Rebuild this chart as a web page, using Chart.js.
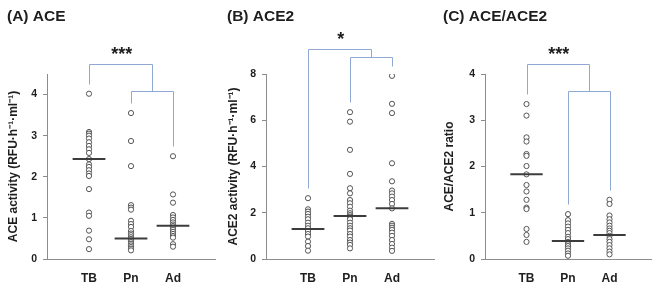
<!DOCTYPE html>
<html lang="en">
<head>
<meta charset="UTF-8">
<title>ACE, ACE2 and ACE/ACE2</title>
<script src="https://cdn.jsdelivr.net/npm/chart.js@4.4.0/dist/chart.umd.min.js"></script>
<style>
  body { margin: 0; background: #fff; }
  #wrap { position: relative; width: 656px; height: 288px; }
  .panel { position: absolute; top: 0; width: 220px; height: 288px; }
</style>
</head>
<body>
<div id="wrap">
  <div class="panel" style="left:0"><canvas id="chartA" width="220" height="288"></canvas></div>
  <div class="panel" style="left:220px"><canvas id="chartB" width="220" height="288"></canvas></div>
  <div class="panel" style="left:436px"><canvas id="chartC" width="220" height="288"></canvas></div>
</div>
<script>
const groups = ['TB', 'Pn', 'Ad'];

// (A) ACE activity
const aceTB = [4.02, 3.09, 3.05, 3.00, 2.93, 2.84, 2.75, 2.67, 2.58, 2.43, 2.30, 2.24, 2.16, 2.08, 2.02, 1.70, 1.13, 1.05, 0.69, 0.48, 0.24];
const acePn = [3.55, 2.87, 2.26, 1.31, 1.25, 1.20, 0.93, 0.85, 0.78, 0.68, 0.62, 0.58, 0.53, 0.49, 0.45, 0.41, 0.37, 0.33, 0.29, 0.25, 0.21];
const aceAd = [2.50, 1.57, 1.37, 1.07, 1.01, 0.95, 0.89, 0.84, 0.80, 0.76, 0.71, 0.66, 0.61, 0.56, 0.52, 0.36, 0.30];
const aceMedians = [2.43, 0.50, 0.81];
const aceTicks = [0, 1, 2, 3, 4];

// (B) ACE2 activity
const ace2TB = [2.63, 2.15, 2.05, 1.95, 1.83, 1.72, 1.57, 1.44, 1.33, 1.21, 1.08, 0.97, 0.75, 0.56, 0.36];
const ace2Pn = [6.35, 5.94, 4.72, 3.68, 3.06, 2.84, 2.55, 2.41, 2.26, 2.09, 1.98, 1.90, 1.83, 1.72, 1.57, 1.44, 1.33, 1.23, 1.08, 0.97, 0.82, 0.71, 0.61, 0.46];
const ace2Ad = [7.92, 6.71, 6.31, 4.14, 3.36, 2.96, 2.84, 2.70, 2.55, 2.38, 2.19, 1.52, 1.44, 1.35, 1.26, 1.14, 1.00, 0.82, 0.65, 0.49, 0.35];
const ace2Medians = [1.30, 1.86, 2.19];
const ace2Ticks = [0, 2, 4, 6, 8];

// (C) ACE/ACE2 ratio
const ratioTB = [3.35, 3.10, 2.63, 2.54, 2.27, 2.23, 2.01, 1.83, 1.60, 1.46, 1.28, 1.11, 1.08, 0.65, 0.52, 0.37];
const ratioPn = [0.97, 0.84, 0.77, 0.70, 0.63, 0.56, 0.48, 0.43, 0.37, 0.32, 0.28, 0.23, 0.18, 0.12, 0.07];
const ratioAd = [1.28, 1.19, 0.94, 0.86, 0.79, 0.72, 0.66, 0.61, 0.56, 0.50, 0.43, 0.37, 0.30, 0.23, 0.16, 0.10];
const ratioMedians = [1.83, 0.39, 0.52];
const ratioTicks = [0, 1, 2, 3, 4];

const FONT = '"Liberation Sans", Arial, sans-serif';
const AXIS = '#8c8c8c';
const INK = '#1e1e1e';
const BRACKET = 'rgb(143,168,212)';

Chart.defaults.font.family = FONT;

// panel titles, significance brackets and stars
const decor = {
  id: 'decor',
  afterDraw(chart, args, o) {
    const {ctx, scales: {x, y}} = chart;
    const px = v => Math.round(x.getPixelForValue(v)) + 0.5;
    const py = v => Math.round(y.getPixelForValue(v)) + 0.5;
    const dropEnd = vals => Math.round(y.getPixelForValue(Math.max(...vals)) - 10) + 0.5;
    ctx.save();
    ctx.fillStyle = INK;
    ctx.font = 'bold 15.5px ' + FONT;
    ctx.textAlign = 'left';
    ctx.textBaseline = 'middle';
    ctx.fillText(o.title, 7, 17);

    ctx.strokeStyle = BRACKET;
    ctx.lineWidth = 1;
    ctx.beginPath();
    ctx.moveTo(px(1), dropEnd(o.series[0]));
    ctx.lineTo(px(1), py(o.outer));
    ctx.lineTo(px(2.5), py(o.outer));
    ctx.lineTo(px(2.5), py(o.inner));
    ctx.moveTo(px(2), dropEnd(o.series[1]));
    ctx.lineTo(px(2), py(o.inner));
    ctx.lineTo(px(3), py(o.inner));
    ctx.lineTo(px(3), dropEnd(o.series[2]));
    ctx.stroke();

    ctx.font = 'bold 18px ' + FONT;
    ctx.textAlign = 'center';
    ctx.fillText(o.stars, x.getPixelForValue(1.78), y.getPixelForValue(o.starY) + 4);
    ctx.restore();
  }
};

function makeChart(id, p) {
  const datasets = [];
  p.series.forEach((vals, i) => {
    datasets.push({
      data: vals.map(v => ({x: i + 1, y: v})),
      pointRadius: 2.6,
      pointBorderWidth: 1,
      pointBorderColor: '#555',
      pointBackgroundColor: '#fff',
      order: 1
    });
    datasets.push({
      data: [{x: i + 1 - 0.39, y: p.medians[i]}, {x: i + 1 + 0.39, y: p.medians[i]}],
      showLine: true,
      borderColor: '#3c3c3c',
      borderWidth: 2,
      pointRadius: 0,
      order: 0
    });
  });

  return new Chart(document.getElementById(id), {
    type: 'scatter',
    data: {datasets},
    plugins: [decor],
    options: {
      responsive: false,
      animation: false,
      layout: {padding: {top: 74, right: p.padRight, bottom: 0, left: 0}},
      plugins: {
        legend: {display: false},
        tooltip: {enabled: false},
        decor: {title: p.title, series: p.series, outer: p.outer, inner: p.inner, stars: p.stars, starY: p.starY}
      },
      scales: {
        x: {
          type: 'linear', min: 0, max: 4,
          afterBuildTicks: s => { s.ticks = groups.map((g, i) => ({value: i + 1})); },
          afterFit: s => { s.height = 29; },
          grid: {display: false},
          border: {color: AXIS, width: 1},
          ticks: {
            callback: (v, i) => groups[i],
            autoSkip: false, maxRotation: 0, padding: 4,
            color: INK, font: {size: 12, weight: 'bold'}
          }
        },
        y: {
          min: 0, max: p.yMax,
          afterBuildTicks: s => { s.ticks = p.yTicks.map(v => ({value: v})); },
          afterFit: s => { s.width = p.axisLeft; },
          grid: {drawOnChartArea: false, tickLength: 4, color: AXIS},
          border: {color: AXIS, width: 1},
          ticks: {color: INK, padding: 6, font: {size: 10.5, weight: 'bold'}},
          title: {
            display: true, text: p.yTitle, color: INK,
            font: {size: 12, weight: 'bold'},
            padding: {top: 6, bottom: 0}
          }
        }
      }
    }
  });
}

makeChart('chartA', {
  title: '(A) ACE', yTitle: 'ACE activity (RFU·h⁻¹·ml⁻¹)',
  series: [aceTB, acePn, aceAd], medians: aceMedians,
  yMax: 4.5, yTicks: aceTicks, axisLeft: 47, padRight: 5,
  outer: 4.74, inner: 4.09, stars: '***', starY: 5.06
});
makeChart('chartB', {
  title: '(B) ACE2', yTitle: 'ACE2 activity (RFU·h⁻¹·ml⁻¹)',
  series: [ace2TB, ace2Pn, ace2Ad], medians: ace2Medians,
  yMax: 8, yTicks: ace2Ticks, axisLeft: 46, padRight: 6,
  outer: 9.08, inner: 8.74, stars: '*', starY: 9.64
});
makeChart('chartC', {
  title: '(C) ACE/ACE2', yTitle: 'ACE/ACE2 ratio',
  series: [ratioTB, ratioPn, ratioAd], medians: ratioMedians,
  yMax: 4, yTicks: ratioTicks, axisLeft: 49, padRight: 3,
  outer: 4.22, inner: 3.63, stars: '***', starY: 4.5
});
</script>
</body>
</html>
